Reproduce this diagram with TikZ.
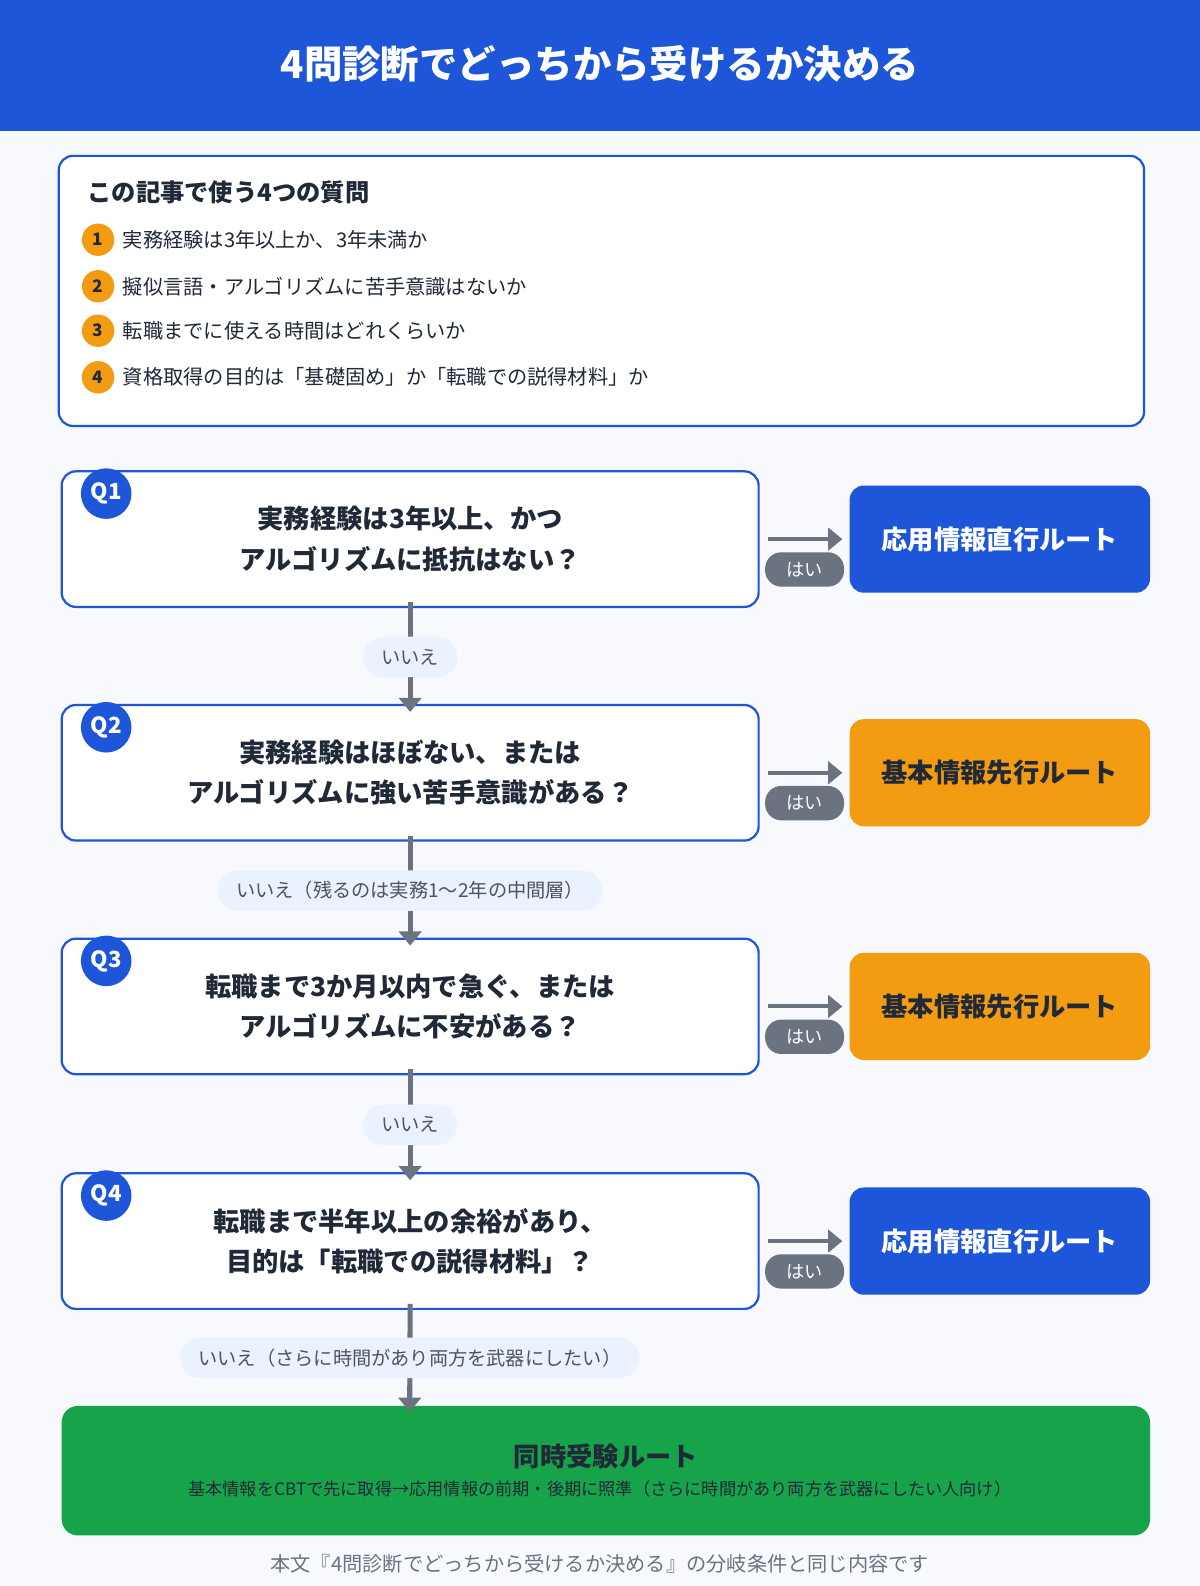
\documentclass[tikz,border=0pt]{standalone}
\usepackage{fontspec}
\setmainfont{Noto Sans CJK JP}
\usetikzlibrary{arrows.meta,calc}
\definecolor{hblue}{HTML}{1D56D8}
\definecolor{bg}{HTML}{F7F9FC}
\definecolor{orng}{HTML}{F39C12}
\definecolor{dark}{HTML}{1F2937}
\definecolor{gray1}{HTML}{6B7280}
\definecolor{pale}{HTML}{EAF2FF}
\definecolor{grn}{HTML}{16A34A}
\definecolor{foot}{HTML}{6B7280}
\begin{document}
\begin{tikzpicture}[x=1pt,y=-1pt,
 qbox/.style={draw=hblue,line width=2.2pt,fill=white,rounded corners=14pt,minimum width=689pt,minimum height=134pt,align=center,font=\fontsize{26}{40}\selectfont\bfseries,text=dark},
 badge/.style={circle,fill=hblue,minimum size=50pt,inner sep=0pt,text=white,font=\fontsize{22}{24}\selectfont\bfseries},
 res/.style={rounded corners=14pt,minimum width=297pt,minimum height=106pt,font=\fontsize{26}{30}\selectfont\bfseries},
 hai/.style={fill=gray1,rounded corners=16pt,minimum width=78pt,minimum height=34pt,inner sep=0pt,text=white,font=\fontsize{18}{20}\selectfont},
 iie/.style={fill=pale,rounded corners=20pt,minimum height=40pt,inner xsep=18pt,text=dark!80,font=\fontsize{19}{22}\selectfont},
 num/.style={circle,fill=orng,minimum size=32pt,inner sep=0pt,text=dark,font=\fontsize{17}{18}\selectfont\bfseries},
 item/.style={anchor=west,text=dark,font=\fontsize{20}{24}\selectfont},
 conn/.style={gray1,line width=5pt,-{Triangle[length=14pt,width=22pt]}}]
\useasboundingbox (0,0) rectangle (1186,1568);
\fill[bg] (0,0) rectangle (1186,1568);
\fill[hblue] (0,0) rectangle (1186,130);
\node[text=white,font=\fontsize{38}{44}\selectfont\bfseries] (title) at (593,63) {4問診断でどっちから受けるか決める};
% info box
\node[draw=hblue,line width=2.2pt,fill=white,rounded corners=14pt,minimum width=1073pt,minimum height=267pt,anchor=north west] (info) at (57,153) {};
\node[anchor=west,text=dark,font=\fontsize{24}{28}\selectfont\bfseries] (infot) at (83,190) {この記事で使う4つの質問};
\node[num] (n1) at (97,237) {1}; \node[item] (i1) at (118,237) {実務経験は3年以上か、3年未満か};
\node[num] (n2) at (97,283) {2}; \node[item] (i2) at (118,283) {擬似言語・アルゴリズムに苦手意識はないか};
\node[num] (n3) at (97,327) {3}; \node[item] (i3) at (118,327) {転職までに使える時間はどれくらいか};
\node[num] (n4) at (97,373) {4}; \node[item] (i4) at (118,373) {資格取得の目的は「基礎固め」か「転職での説得材料」か};
% questions
\node[qbox] (q1) at (405.5,533) {実務経験は3年以上、かつ\\アルゴリズムに抵抗はない？};
\node[qbox] (q2) at (405.5,764) {実務経験はほぼない、または\\アルゴリズムに強い苦手意識がある？};
\node[qbox] (q3) at (405.5,995) {転職まで3か月以内で急ぐ、または\\アルゴリズムに不安がある？};
\node[qbox] (q4) at (405.5,1227) {転職まで半年以上の余裕があり、\\目的は「転職での説得材料」？};
\foreach \i/\y in {1/488,2/719,3/950,4/1182} \node[badge] (b\i) at (105,\y) {Q\i};
% results
\node[res,fill=hblue,text=white] (r1) at (988.5,533) {応用情報直行ルート};
\node[res,fill=orng,text=dark] (r2) at (988.5,764) {基本情報先行ルート};
\node[res,fill=orng,text=dark] (r3) at (988.5,995) {基本情報先行ルート};
\node[res,fill=hblue,text=white] (r4) at (988.5,1227) {応用情報直行ルート};
\foreach \i in {1,...,4}{
 \draw[conn,line width=4pt] ([xshift=8pt]q\i.east) -- ([xshift=-7pt]r\i.west);
 \node[hai] (h\i) at ([yshift=-30pt]$(q\i.east)!0.5!(r\i.west)$) {はい};
}
% final
\node[fill=grn,rounded corners=16pt,minimum width=1076pt,minimum height=128pt] (fin) at (599,1454) {};
\node[text=dark,font=\fontsize{26}{30}\selectfont\bfseries] (fint) at (599,1440) {同時受験ルート};
\node[text=dark,font=\fontsize{17}{20}\selectfont] (fins) at (593,1472) {基本情報をCBTで先に取得→応用情報の前期・後期に照準（さらに時間があり両方を武器にしたい人向け）};
% vertical connectors
\draw[conn] ([yshift=6pt]q1.south) -- ([yshift=-8pt]q2.north) node[iie,midway] (l1) {いいえ};
\draw[conn] ([yshift=6pt]q2.south) -- ([yshift=-8pt]q3.north) node[iie,midway] (l2) {いいえ（残るのは実務1〜2年の中間層）};
\draw[conn] ([yshift=6pt]q3.south) -- ([yshift=-8pt]q4.north) node[iie,midway] (l3) {いいえ};
\draw[conn] ([yshift=6pt]q4.south) -- ([xshift=-194pt,yshift=-6pt]fin.north) node[iie,midway] (l4) {いいえ（さらに時間があり両方を武器にしたい）};
\node[text=foot,font=\fontsize{20}{24}\selectfont] (foot) at (593,1546) {本文『4問診断でどっちから受けるか決める』の分岐条件と同じ内容です};
\end{tikzpicture}
\end{document}
